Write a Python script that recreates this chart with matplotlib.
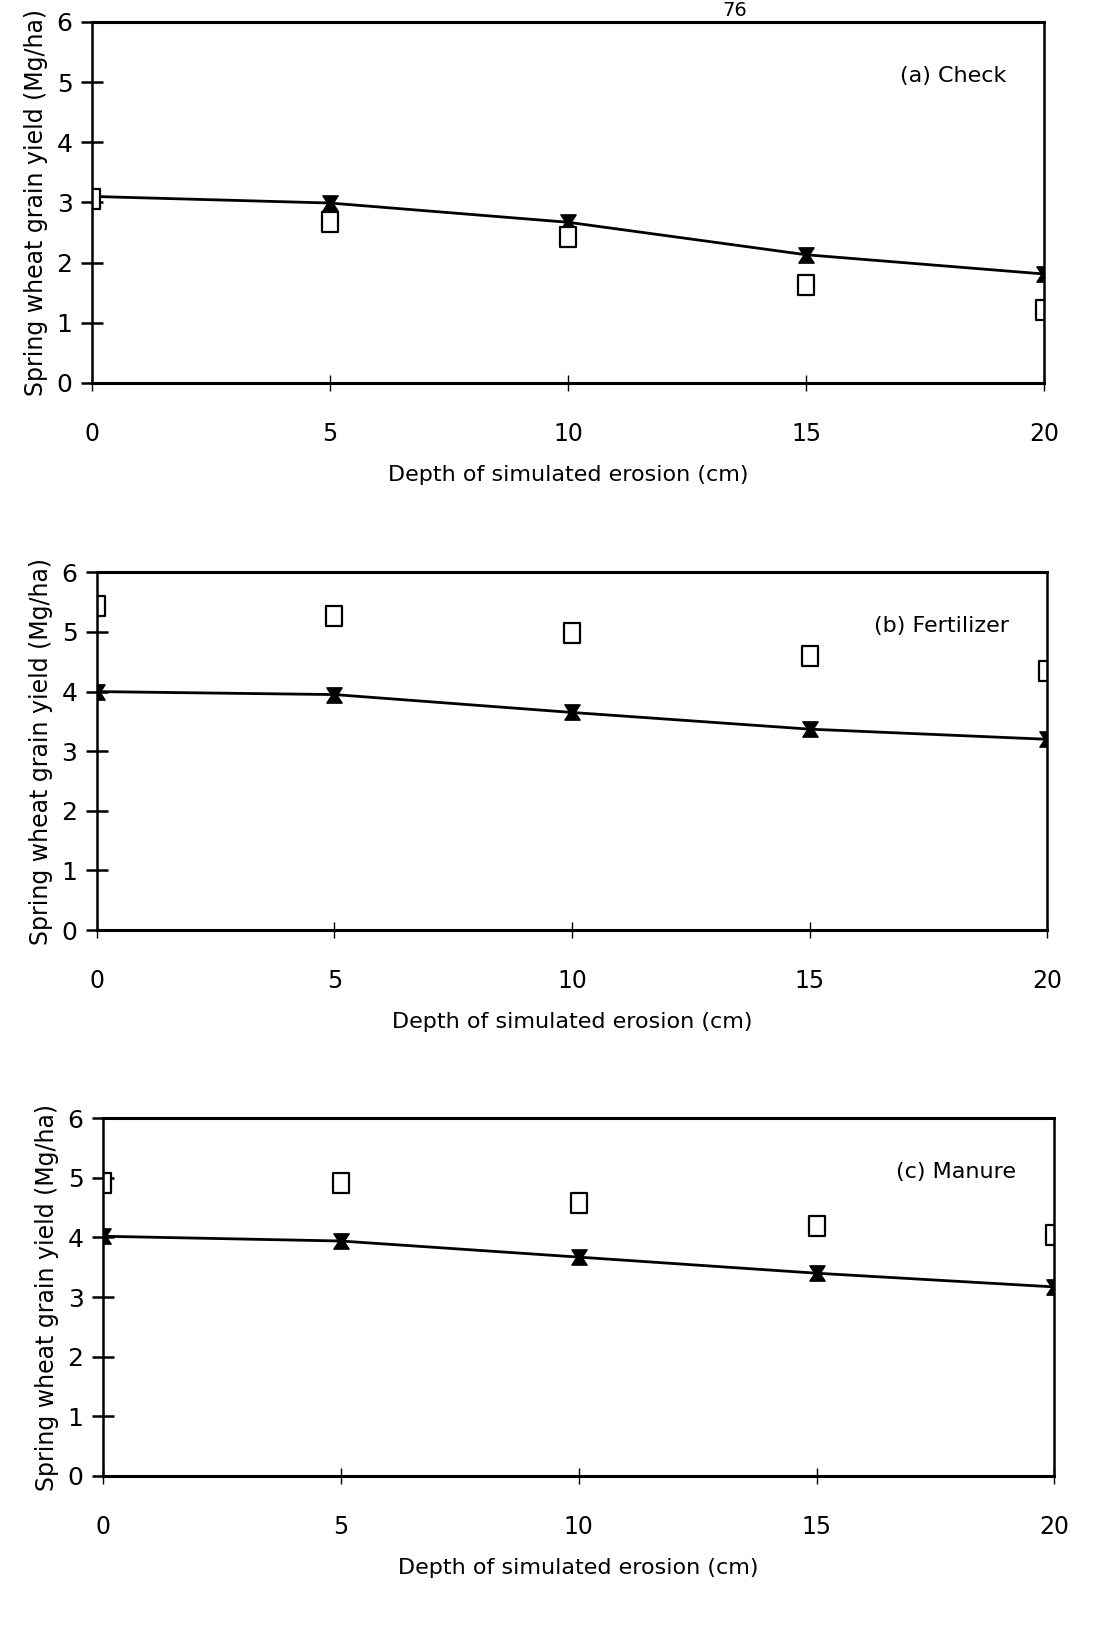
import matplotlib.pyplot as plt
import numpy as np
from matplotlib.path import Path

# Dane
depth = [0, 5, 10, 15, 20]

check_line = [3.10, 2.99, 2.67, 2.13, 1.81]
check_sq = [3.05, 2.67, 2.43, 1.63, 1.21]

fert_line = [4.00, 3.95, 3.65, 3.37, 3.20]
fert_sq = [5.44, 5.26, 4.99, 4.59, 4.34]

man_line = [4.02, 3.94, 3.67, 3.40, 3.17]
man_sq = [4.92, 4.92, 4.57, 4.19, 4.04]

panel_labels = ['(a) Check', '(b) Fertilizer', '(c) Manure']
xticks = [0, 5, 10, 15, 20]
yticks = [0, 1, 2, 3, 4, 5, 6]

# Znacznik w kształcie klepsydry
hourglass = Path([(-1, 1), (1, 1), (0.35, 0), (1, -1), (-1, -1), (-0.35, 0), (-1, 1)],
                 [Path.MOVETO] + [Path.LINETO] * 5 + [Path.CLOSEPOLY])
box = Path([(-0.8, -1), (0.8, -1), (0.8, 1), (-0.8, 1), (-0.8, -1)],
           [Path.MOVETO] + [Path.LINETO] * 3 + [Path.CLOSEPOLY])

fig = plt.figure(figsize=(11.14, 16.26), dpi=100)

positions = [
    [0.0826, 0.7645, 0.855, 0.222],
    [0.0870, 0.4280, 0.853, 0.220],
    [0.0925, 0.0923, 0.854, 0.220],
]
lines = [check_line, fert_line, man_line]
squares = [check_sq, fert_sq, man_sq]

for pos, ln, sq, lab in zip(positions, lines, squares, panel_labels):
    ax = fig.add_axes(pos)
    ax.plot(depth, ln, color='black', lw=2, marker=hourglass, ms=11)
    ax.plot(depth, sq, ls='none', marker=box, ms=14, mfc='white', mec='black', mew=1.6)
    ax.set_xlim(0, 20)
    ax.set_ylim(0, 6)
    ax.set_xticks(xticks)
    ax.set_yticks(yticks)
    ax.tick_params(axis='y', direction='inout', length=16, width=1.8, labelsize=18, pad=6)
    ax.tick_params(axis='x', direction='inout', length=12, width=1, labelsize=17, pad=22)
    for s in ax.spines.values():
        s.set_linewidth(1.8)
    ax.spines['top'].set_linewidth(2.2)
    ax.spines['bottom'].set_linewidth(2.2)
    ax.set_xlabel('Depth of simulated erosion (cm)', fontsize=16, labelpad=14)
    ax.set_ylabel('Spring wheat grain yield (Mg/ha)', fontsize=17, labelpad=6)
    ax.text(0.96, 0.85, lab, transform=ax.transAxes, ha='right', va='center', fontsize=16)

fig.text(0.66, 0.9995, '76', ha='center', va='top', fontsize=14)

plt.savefig('out.png', dpi=100)
